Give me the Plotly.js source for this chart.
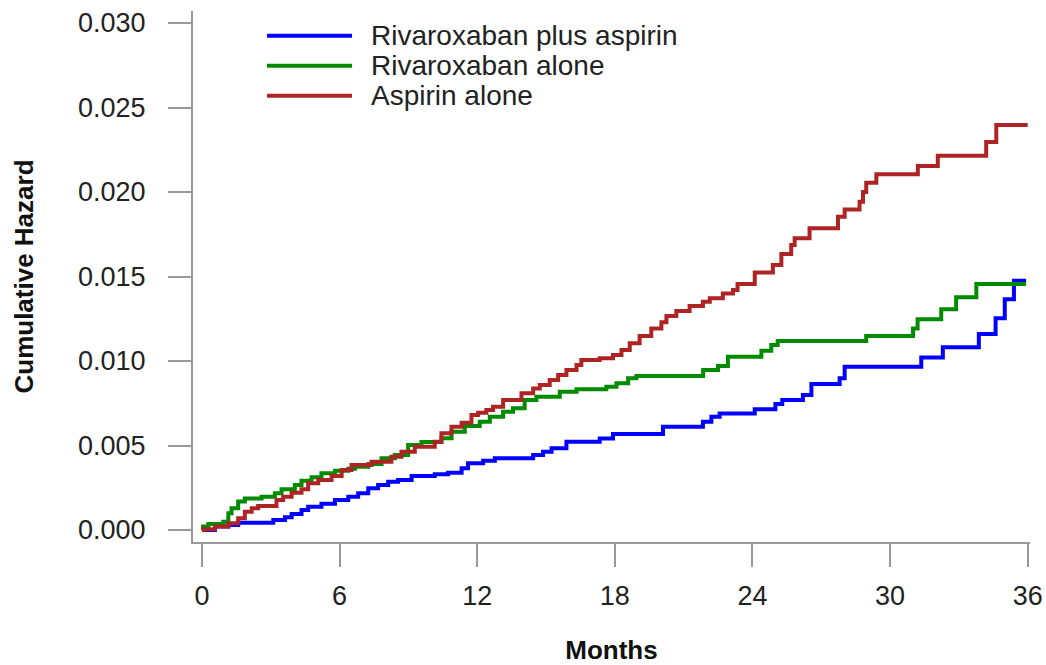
<!DOCTYPE html>
<html>
<head>
<meta charset="utf-8">
<script src="https://cdn.plot.ly/plotly-3.0.1.min.js"></script>
<style>html,body{margin:0;padding:0;background:#fff;}#chart{width:1046px;height:665px;}</style>
</head>
<body>
<div id="chart"></div>
<script>
// ---- Data ----
const seriesNames = ["Rivaroxaban plus aspirin", "Rivaroxaban alone", "Aspirin alone"];
const seriesColors = ["#0000FF", "#008B00", "#AE2424"];

const monthsRivAsp = [0, 0.57, 1.15, 1.58, 3.11, 3.62, 3.91, 4.34, 4.63, 5.21, 5.80, 6.38, 6.81, 7.25, 7.68, 8.12, 8.55, 9.14, 10.15, 10.73, 11.32, 11.60, 12.26, 12.77, 14.44, 14.87, 15.24, 15.89, 17.34, 17.92, 20.10, 21.84, 22.21, 22.57, 24.10, 25.00, 25.30, 26.20, 26.57, 27.80, 28.02, 31.36, 32.30, 33.87, 34.60, 35.00, 35.40, 35.93];
const hazardRivAsp = [0, 0.00020, 0.00030, 0.00043, 0.00059, 0.00075, 0.00095, 0.00118, 0.00138, 0.00155, 0.00178, 0.00197, 0.00217, 0.00247, 0.00266, 0.00286, 0.00296, 0.00320, 0.00330, 0.00339, 0.00365, 0.00395, 0.00410, 0.00424, 0.00444, 0.00463, 0.00483, 0.00522, 0.00542, 0.00568, 0.00611, 0.00641, 0.00670, 0.00690, 0.00714, 0.00746, 0.00769, 0.00799, 0.00864, 0.00898, 0.00966, 0.01020, 0.01081, 0.01160, 0.01253, 0.01365, 0.01475, 0.01475];

const monthsRiv = [0, 0.05, 0.28, 0.93, 1.15, 1.29, 1.58, 1.87, 2.60, 3.18, 3.47, 4.05, 4.34, 4.78, 5.21, 5.80, 6.38, 6.67, 7.25, 7.83, 8.41, 8.99, 9.57, 10.44, 10.88, 11.46, 12.11, 12.55, 13.13, 13.56, 14.07, 14.58, 15.60, 16.33, 17.63, 18.07, 18.58, 18.94, 21.85, 22.50, 22.93, 24.39, 24.82, 25.10, 28.96, 31.00, 31.20, 32.23, 32.88, 33.76, 35.93];
const hazardRiv = [0, 0.00020, 0.00035, 0.00049, 0.00099, 0.00128, 0.00168, 0.00187, 0.00197, 0.00217, 0.00241, 0.00266, 0.00292, 0.00312, 0.00336, 0.00351, 0.00363, 0.00375, 0.00390, 0.00424, 0.00444, 0.00503, 0.00520, 0.00543, 0.00582, 0.00615, 0.00641, 0.00670, 0.00700, 0.00720, 0.00769, 0.00789, 0.00818, 0.00833, 0.00848, 0.00868, 0.00898, 0.00911, 0.00947, 0.00970, 0.01025, 0.01061, 0.01095, 0.01118, 0.01148, 0.01193, 0.01247, 0.01306, 0.01377, 0.01456, 0.01456];

const monthsAsp = [0, 0.05, 0.57, 1.15, 1.58, 1.87, 2.17, 2.45, 3.25, 3.54, 3.91, 4.34, 4.63, 5.07, 5.65, 6.09, 6.52, 7.39, 8.26, 8.70, 9.28, 10.15, 10.44, 10.88, 11.32, 11.75, 12.04, 12.40, 12.69, 13.13, 13.93, 14.44, 14.73, 15.16, 15.53, 15.89, 16.33, 16.54, 17.34, 17.92, 18.29, 18.65, 19.08, 19.59, 20.03, 20.25, 20.68, 21.26, 21.84, 22.14, 22.71, 23.15, 23.35, 24.10, 24.89, 25.26, 25.69, 25.84, 26.49, 27.73, 28.02, 28.67, 28.82, 28.96, 29.40, 31.21, 32.08, 34.19, 34.63, 36.00];
const hazardAsp = [0, 0.00004, 0.00020, 0.00040, 0.00069, 0.00108, 0.00128, 0.00142, 0.00178, 0.00197, 0.00221, 0.00241, 0.00276, 0.00296, 0.00320, 0.00355, 0.00385, 0.00404, 0.00434, 0.00463, 0.00493, 0.00522, 0.00572, 0.00611, 0.00635, 0.00680, 0.00694, 0.00710, 0.00730, 0.00769, 0.00809, 0.00838, 0.00858, 0.00888, 0.00917, 0.00947, 0.00976, 0.01006, 0.01016, 0.01036, 0.01065, 0.01105, 0.01148, 0.01193, 0.01230, 0.01266, 0.01296, 0.01325, 0.01350, 0.01371, 0.01400, 0.01420, 0.01456, 0.01523, 0.01568, 0.01633, 0.01686, 0.01726, 0.01785, 0.01854, 0.01897, 0.01943, 0.02000, 0.02055, 0.02105, 0.02154, 0.02215, 0.02296, 0.02396, 0.02396];

const xTickVals = [0, 6, 12, 18, 24, 30, 36];
const yTickVals = [0, 0.005, 0.010, 0.015, 0.020, 0.025, 0.030];
const yTickText = ["0.000", "0.005", "0.010", "0.015", "0.020", "0.025", "0.030"];

// ---- Build chart ----
const FONT = '"Liberation Sans", Arial, Helvetica, sans-serif';
const xs = [monthsRivAsp, monthsRiv, monthsAsp];
const ys = [hazardRivAsp, hazardRiv, hazardAsp];

const traces = seriesNames.map((name, i) => ({
  type: 'scatter',
  mode: 'lines',
  name: name,
  x: xs[i],
  y: ys[i],
  line: {shape: 'hv', color: seriesColors[i], width: 4},
  showlegend: false,
  hoverinfo: 'skip'
}));

// Custom legend (long line samples as in the reference)
const legY0 = 0.9535, legStep = 0.0565;
const shapes = [];
const annotations = [];
seriesNames.forEach((name, i) => {
  const yy = legY0 - i * legStep;
  shapes.push({type: 'line', xref: 'paper', yref: 'paper', x0: 0.0884, x1: 0.19, y0: yy, y1: yy,
               line: {color: seriesColors[i], width: 4}});
  annotations.push({xref: 'paper', yref: 'paper', x: 0.2103, y: yy, xanchor: 'left', yanchor: 'middle',
                    text: name, showarrow: false, font: {family: FONT, size: 28, color: '#222'}});
});

const layout = {
  width: 1046,
  height: 665,
  margin: {l: 193, r: 16, t: 11, b: 123},
  paper_bgcolor: '#fff',
  plot_bgcolor: '#fff',
  font: {family: FONT, size: 27, color: '#222'},
  showlegend: false,
  xaxis: {
    range: [-0.39, 36.1],
    tickvals: xTickVals,
    ticktext: xTickVals.map(String),
    ticks: 'outside', ticklen: 23, tickwidth: 2, tickcolor: '#999',
    showline: true, linecolor: '#999', linewidth: 2,
    showgrid: false, zeroline: false,
    tickfont: {family: FONT, size: 27, color: '#222'},
    ticklabelstandoff: 6,
    title: {text: 'Months', font: {family: FONT, size: 26, color: '#111', weight: 'bold'}, standoff: 32},
    automargin: false,
    fixedrange: true
  },
  yaxis: {
    range: [-0.00071, 0.03071],
    tickvals: yTickVals,
    ticktext: yTickText,
    ticks: 'outside', ticklen: 23, tickwidth: 2, tickcolor: '#999',
    showline: true, linecolor: '#999', linewidth: 2,
    showgrid: false, zeroline: false,
    tickfont: {family: FONT, size: 27, color: '#222'},
    ticklabelstandoff: 17,
    title: {text: 'Cumulative Hazard', font: {family: FONT, size: 26, color: '#111', weight: 'bold'}, standoff: 37},
    automargin: false,
    fixedrange: true
  },
  shapes: shapes,
  annotations: annotations
};

Plotly.newPlot('chart', traces, layout, {staticPlot: true, displayModeBar: false});
</script>
</body>
</html>
